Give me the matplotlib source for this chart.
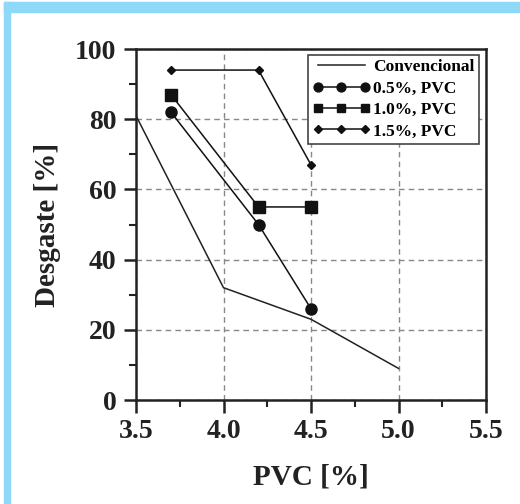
import matplotlib.pyplot as plt
from matplotlib.patches import Rectangle
from matplotlib.ticker import MultipleLocator, FormatStrFormatter

# dados
x_conv = [3.5, 4.0, 4.5, 5.0]
y_conv = [81, 32, 23, 9]

x_pvc = [3.7, 4.2, 4.5]
y_05 = [82, 50, 26]
y_10 = [87, 55, 55]
y_15 = [94, 94, 67]

rotulos = ["Convencional", "0.5%, PVC", "1.0%, PVC", "1.5%, PVC"]

plt.rcParams['font.family'] = 'Liberation Serif'
plt.rcParams['font.weight'] = 'bold'

fig = plt.figure(figsize=(5.2, 5.04), dpi=100)
# moldura azul
azul = '#8ed8f8'
fig.patches.append(Rectangle((4/520, 0), 6/520, 502/504, transform=fig.transFigure, color=azul, zorder=0))
fig.patches.append(Rectangle((4/520, 492/504), 516/520, 10/504, transform=fig.transFigure, color=azul, zorder=0))

ax = fig.add_axes([136/520, 104/504, 350/520, 351/504])

ax.plot(x_conv, y_conv, '-', color='#222222', lw=1.1, label=rotulos[0])
ax.plot(x_pvc, y_05, '-o', color='#111111', lw=1.1, ms=8, label=rotulos[1])
ax.plot(x_pvc, y_10, '-s', color='#111111', lw=1.1, ms=8, label=rotulos[2])
ax.plot(x_pvc, y_15, '-D', color='#111111', lw=1.1, ms=4.5, label=rotulos[3])

ax.set_xlim(3.5, 5.5)
ax.set_ylim(0, 100)
ax.xaxis.set_major_locator(MultipleLocator(0.5))
ax.xaxis.set_minor_locator(MultipleLocator(0.25))
ax.yaxis.set_major_locator(MultipleLocator(20))
ax.yaxis.set_minor_locator(MultipleLocator(10))
ax.xaxis.set_major_formatter(FormatStrFormatter('%.1f'))

ax.grid(True, which='major', linestyle=(0, (4, 3)), color='#888888', lw=1)
ax.set_axisbelow(True)

for s in ax.spines.values():
    s.set_linewidth(1.8)
    s.set_color('#222222')

ax.tick_params(which='major', direction='out', length=9, width=1.8, labelsize=20, pad=5, colors='#222222')
ax.tick_params(which='minor', direction='out', length=5, width=1.5, colors='#222222')

ax.set_xlabel("PVC [%]", fontsize=21, fontweight='bold', labelpad=14, color='#222222')
ax.set_ylabel("Desgaste [%]", fontsize=21, fontweight='bold', labelpad=10, color='#222222')

leg = ax.legend(loc='upper right', bbox_to_anchor=(0.98, 0.983), numpoints=3, fontsize=12.5,
                frameon=True, fancybox=False, handlelength=3.3, borderpad=0.25, labelspacing=0.3,
                handletextpad=0.2, borderaxespad=0, markerscale=0.8)
leg.get_frame().set_edgecolor('#444444')
leg.get_frame().set_linewidth(1.2)
leg.get_frame().set_alpha(1)

plt.savefig("out.png", dpi=100)
